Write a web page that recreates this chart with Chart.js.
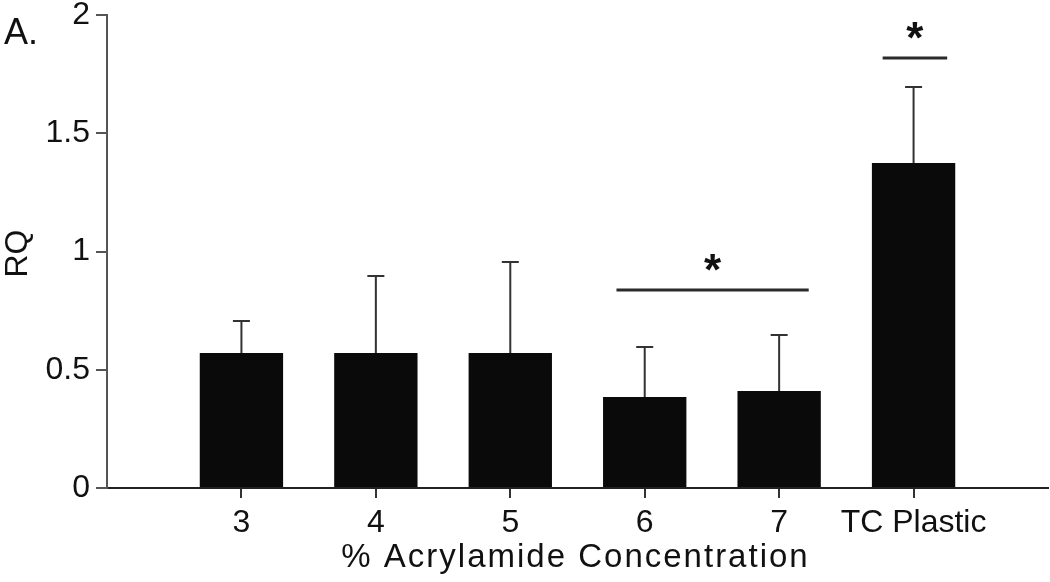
<!DOCTYPE html>
<html>
<head>
<meta charset="utf-8">
<script src="https://cdn.jsdelivr.net/npm/chart.js@4.4.0/dist/chart.umd.min.js"></script>
<style>
  html, body { margin: 0; padding: 0; background: #fff; }
  #chart-div { width: 1050px; height: 582px; }
</style>
</head>
<body>
<div id="chart-div"><canvas id="myChart" width="1050" height="582"></canvas></div>
<script>
// bar categories and where they sit on the x scale
var categories = ['3', '4', '5', '6', '7', 'TC Plastic'];
var positions = [1, 2, 3, 4, 5, 6];
// mean RQ and top of the error bar
var rqValues = [0.571, 0.571, 0.571, 0.385, 0.41, 1.374];
var errorTops = [0.706, 0.896, 0.956, 0.596, 0.647, 1.696];
var yTicks = [0, 0.5, 1, 1.5, 2];
// significance brackets (x from, x to, level)
var sigFrom = [3.79, 5.77];
var sigTo = [5.22, 6.25];
var sigLevel = [0.837, 1.818];

var fontFamily = '"Liberation Sans", Arial, Helvetica, sans-serif';

// error bars, significance lines, axis titles and the panel letter
var extrasPlugin = {
    id: 'extras',
    afterDatasetsDraw: function (chart) {
        var ctx = chart.ctx;
        var xs = chart.scales.x;
        var ys = chart.scales.y;
        ctx.save();
        ctx.strokeStyle = '#333';
        ctx.lineWidth = 2;
        for (var i = 0; i < positions.length; i++) {
            var px = xs.getPixelForValue(positions[i]);
            var yBar = ys.getPixelForValue(rqValues[i]);
            var yTop = ys.getPixelForValue(errorTops[i]);
            ctx.beginPath();
            ctx.moveTo(px, yBar);
            ctx.lineTo(px, yTop);
            ctx.moveTo(px - 8.5, yTop);
            ctx.lineTo(px + 8.5, yTop);
            ctx.stroke();
        }
        ctx.lineWidth = 3;
        ctx.strokeStyle = '#2a2a2a';
        ctx.fillStyle = '#111';
        ctx.font = 'bold 44px ' + fontFamily;
        ctx.textAlign = 'center';
        ctx.textBaseline = 'alphabetic';
        for (var j = 0; j < sigFrom.length; j++) {
            var x1 = xs.getPixelForValue(sigFrom[j]);
            var x2 = xs.getPixelForValue(sigTo[j]);
            var yl = ys.getPixelForValue(sigLevel[j]);
            ctx.beginPath();
            ctx.moveTo(x1, yl);
            ctx.lineTo(x2, yl);
            ctx.stroke();
            ctx.fillText('*', (x1 + x2) / 2, yl - 5);
        }
        // panel letter
        ctx.font = '36px ' + fontFamily;
        ctx.textAlign = 'left';
        ctx.fillText('A.', 4, 44);
        // x axis title
        ctx.font = '33px ' + fontFamily;
        ctx.textAlign = 'center';
        ctx.letterSpacing = '2px';
        ctx.fillText('% Acrylamide Concentration', (xs.left + xs.right) / 2 - 2, 567);
        ctx.letterSpacing = '0px';
        // y axis title
        ctx.font = '32px ' + fontFamily;
        ctx.translate(27, (ys.top + ys.bottom) / 2 + 2);
        ctx.rotate(-Math.PI / 2);
        ctx.fillText('RQ', 0, 0);
        ctx.restore();
    }
};

var ctx = document.getElementById('myChart').getContext('2d');
var chart = new Chart(ctx, {
    type: 'bar',
    data: {
        datasets: [{
            label: 'RQ',
            data: positions.map(function (p, i) { return { x: p, y: rqValues[i] }; }),
            backgroundColor: '#0a0a0a',
            borderColor: '#0a0a0a',
            borderWidth: 0,
            categoryPercentage: 1,
            barPercentage: 0.62
        }]
    },
    options: {
        responsive: false,
        animation: false,
        devicePixelRatio: 1,
        layout: { padding: { top: 15, right: 2, left: 0, bottom: 0 } },
        plugins: { legend: { display: false }, tooltip: { enabled: false } },
        scales: {
            x: {
                type: 'linear',
                min: 0,
                max: 7,
                offset: false,
                afterBuildTicks: function (scale) {
                    scale.ticks = positions.map(function (p) { return { value: p }; });
                },
                afterFit: function (scale) {
                    scale.height = 94;
                    scale.paddingLeft = 0;
                    scale.paddingRight = 0;
                },
                ticks: {
                    autoSkip: false,
                    maxRotation: 0,
                    color: '#111',
                    padding: 6,
                    font: { family: fontFamily, size: 32 },
                    callback: function (value) {
                        var k = positions.indexOf(value);
                        return k >= 0 ? categories[k] : '';
                    }
                },
                grid: { offset: false, drawOnChartArea: false, drawTicks: true, tickLength: 10, color: '#333', lineWidth: 2 },
                border: { display: true, color: '#222', width: 2 }
            },
            y: {
                min: 0,
                max: 2,
                afterBuildTicks: function (scale) {
                    scale.ticks = yTicks.map(function (v) { return { value: v }; });
                },
                afterFit: function (scale) {
                    scale.width = 107;
                    scale.paddingTop = 0;
                    scale.paddingBottom = 0;
                },
                ticks: {
                    color: '#111',
                    padding: 6,
                    font: { family: fontFamily, size: 32 },
                    callback: function (value) { return String(value); }
                },
                grid: { drawOnChartArea: false, drawTicks: true, tickLength: 11, color: '#555', lineWidth: 2 },
                border: { display: true, color: '#555', width: 2 }
            }
        }
    },
    plugins: [extrasPlugin]
});
</script>
</body>
</html>
